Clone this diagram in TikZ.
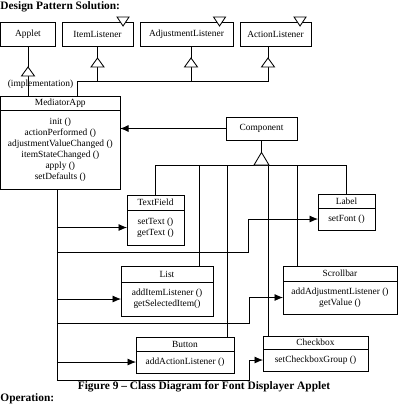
\documentclass[tikz,border=0pt]{standalone}
\usepackage{fontspec}
\setmainfont{Liberation Serif}
\usetikzlibrary{calc}
\usetikzlibrary{arrows.meta}
\newcommand\boxfont{\fontsize{6.7}{7.8}\selectfont}
\newcommand\capfont{\bfseries\fontsize{8.1}{9.7}\selectfont}

\begin{document}
\begin{tikzpicture}[x=0.025cm,y=-0.025cm,line width=0.6pt,
    cname/.style={draw,inner sep=0pt,outer sep=0pt,anchor=north west,font=\boxfont},
    cbody/.style={draw,inner sep=0pt,outer sep=0pt,anchor=north,align=center,font=\boxfont},
    arr/.style={-{Latex[length=6pt,width=5pt]}},
    genarrow/.pic={\draw[fill=white] (-6.5,0) -- (0,-9) -- (6.5,0) -- cycle;},
    iface/.pic={\draw[fill=white] (-6,-5) -- (6,-5) -- (0,4) -- cycle;}]
            \useasboundingbox (0,0) rectangle (401,404);
            \clip (0,0) rectangle (401,404);
            
            \node[anchor=north west,font=\capfont,inner sep=0pt] (head) at (0,1) {Design Pattern Solution:};
            
            % top row
            \node[cname,minimum width=1.375cm,minimum height=0.6cm] (applet) at (0.5,22) {Applet};
            \node[cname,minimum width=1.775cm,minimum height=0.6cm] (iteml) at (62,22) {ItemListener};
            \node[cname,minimum width=2.325cm,minimum height=0.6cm] (adjl) at (140,22) {AdjustmentListener};
            \node[cname,minimum width=1.775cm,minimum height=0.6cm] (actl) at (240,22) {ActionListener};
            \pic at ($(iteml.north east)+(-10,0)$) {iface};
            \pic at ($(adjl.north east)+(-13.5,0)$) {iface};
            \pic at ($(actl.north east)+(-11,0)$) {iface};
            
            % mediator
            \node[cname,minimum width=2.99cm,minimum height=0.35cm] (medt) at (0.5,96) {MediatorApp};
            \node[cbody,minimum width=2.99cm,minimum height=1.975cm] (medm) at (medt.south)
                {init ()\\actionPerformed ()\\adjustmentValueChanged ()\\itemStateChanged ()\\apply ()\\setDefaults ()};
            
            \node[cname,minimum width=1.775cm,minimum height=0.575cm] (comp) at (226,117) {Component};
            
            % widgets
            \node[cname,minimum width=1.425cm,minimum height=0.375cm] (textt) at (127,195) {TextField};
            \node[cbody,minimum width=1.425cm,minimum height=0.875cm] (textm) at (textt.south) {setText ()\\getText ()};
            \node[cname,minimum width=1.425cm,minimum height=0.35cm] (labelt) at (318,194) {Label};
            \node[cbody,minimum width=1.425cm,minimum height=0.55cm] (labelm) at (labelt.south) {setFont ()};
            \node[cname,minimum width=2.3cm,minimum height=0.4cm] (listt) at (121,266) {List};
            \node[cbody,minimum width=2.3cm,minimum height=0.85cm] (listm) at (listt.south) {addItemListener ()\\getSelectedItem()};
            \node[cname,minimum width=2.85cm,minimum height=0.375cm] (scrollt) at (283,266) {Scrollbar};
            \node[cbody,minimum width=2.85cm,minimum height=0.825cm] (scrollm) at (scrollt.south) {addAdjustmentListener ()\\getValue ()};
            \node[cname,minimum width=2.45cm,minimum height=0.35cm] (buttont) at (136,337) {Button};
            \node[cbody,minimum width=2.45cm,minimum height=0.55cm] (buttonm) at (buttont.south) {addActionListener ()};
            \node[cname,minimum width=2.625cm,minimum height=0.325cm] (checkt) at (263,336) {Checkbox};
            \node[cbody,minimum width=2.625cm,minimum height=0.55cm] (checkm) at (checkt.south) {setCheckboxGroup ()};
            
            % inheritance and implementation
            \draw (applet.south) -- (applet.south |- medt.north);
            \pic at ($(applet.south)+(0,30)$) {genarrow};
            \node[font=\boxfont,inner sep=0pt] (impltext) at (40.5,84) {(implementation)};
            \coordinate (impl) at (77,81);
            \draw (iteml.south) -- (iteml.south |- impl);
            \draw ($(adjl.south)+(4.5,0)$) coordinate (adjdrop) -- (adjdrop |- impl);
            \draw ($(actl.south)+(-7.5,0)$) |- (impl) -- (impl |- medt.north);
            \pic at ($(iteml.south)+(0,21)$) {genarrow};
            \pic at ($(adjl.south)+(4.5,21)$) {genarrow};
            \pic at ($(actl.south)+(-7.5,21)$) {genarrow};
            
            \draw[arr] (comp.west) -- (comp.west -| medm.east);
            
            \draw (comp.south) -- ++(0,25) coordinate (bus);
            \draw (textt.north) |- (bus) -| (labelt.north);
            \draw ($(listt.north)+(32,0)$) |- (bus);
            \draw ($(buttont.north)+(42,0)$) |- (bus);
            \draw ($(checkt.north)+(-47,0)$) |- (bus);
            \draw ($(scrollt.north)+(-43,0)$) |- (bus);
            \pic[xscale=1.15,yscale=1.4] at (bus) {genarrow};
            
            % mediator to widgets
            \coordinate (trunk) at (57,380);
            \coordinate (labjog) at (248,252);
            \coordinate (scrjog) at (249,323);
            \draw (medm.south -| trunk) -- (trunk);
            \draw[arr] (trunk |- textm.west) -- (textm.west);
            \draw[arr] (trunk |- labjog) -- (labjog) |- (labelm.west);
            \draw[arr] (trunk |- listm.west) -- (listm.west);
            \draw[arr] (trunk |- scrjog) -- (scrjog) |- (scrollm.west);
            \draw[arr] (trunk |- buttonm.west) -- (buttonm.west);
            \draw[arr] (trunk) -| ($(checkm.west)+(-14,0)$) |- (checkm.west);
            
            \node[font=\capfont] (caption) at (204,387) {Figure 9 – Class Diagram for Font Displayer Applet};
            \node[anchor=base west,font=\capfont,inner sep=0pt] (oper) at (0,401) {Operation:};
        \end{tikzpicture}
\end{document}
